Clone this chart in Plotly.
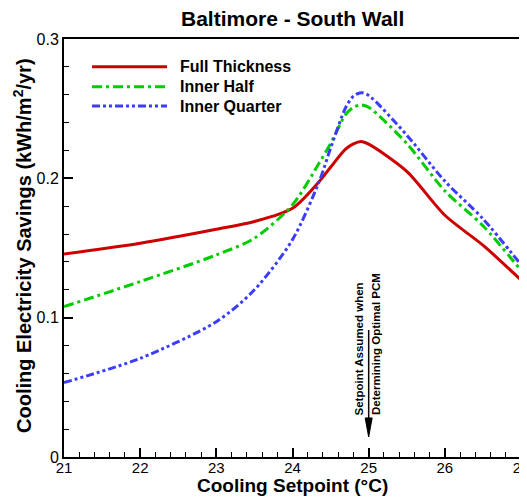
import plotly.graph_objects as go

# ---- data ----
setpoint = [21, 22, 23, 23.5, 24, 24.35, 24.5, 24.7, 24.8, 24.9, 25, 25.5, 26, 26.5, 27]
full_thickness = [0.1457, 0.1534, 0.1634, 0.169, 0.1785, 0.1977, 0.208, 0.2211, 0.2247, 0.2264, 0.2245, 0.205, 0.1735, 0.152, 0.127]
inner_half = [0.1079, 0.1259, 0.145, 0.157, 0.181, 0.211, 0.225, 0.246, 0.251, 0.2527, 0.251, 0.225, 0.191, 0.166, 0.134]
inner_quarter = [0.0534, 0.0708, 0.0971, 0.120, 0.156, 0.1977, 0.2216, 0.251, 0.259, 0.2615, 0.2595, 0.231, 0.198, 0.171, 0.138]

series_names = ["Full Thickness", "Inner Half", "Inner Quarter"]
x_ticks = [21, 22, 23, 24, 25, 26, 27]
y_ticks = [0, 0.1, 0.2, 0.3]
y_tick_text = ["0", "0.1", "0.2", "0.3"]

colors = ["#CC0000", "#00CC00", "#3C3CFF"]
dashes = ["solid", "10px,4px,3px,4px", "8px,3px,3px,3px,3px,3px"]
widths = [3, 3, 3]
FONT = "Liberation Sans, Arial, Helvetica, sans-serif"

fig = go.Figure()
for name, ys, c, d, w in zip(series_names, [full_thickness, inner_half, inner_quarter], colors, dashes, widths):
    fig.add_trace(go.Scatter(x=setpoint, y=ys, mode="lines", name=name,
                             line=dict(color=c, dash=d, width=w, shape="spline", smoothing=0.8),
                             showlegend=False))

# manual legend (long line samples)
leg_y = [0.9337, 0.886, 0.8397]
for name, c, d, w, ly in zip(series_names, colors, dashes, widths, leg_y):
    fig.add_shape(type="line", xref="paper", yref="paper", x0=0.0613, x1=0.2254, y0=ly, y1=ly,
                  line=dict(color=c, dash=d, width=w))
    fig.add_annotation(xref="paper", yref="paper", x=0.2495, y=ly, text="<b>%s</b>" % name,
                       showarrow=False, xanchor="left", yanchor="middle",
                       font=dict(family=FONT, size=16, color="black"))

# arrow at setpoint 25
fig.add_shape(type="line", xref="x", yref="y", x0=25, x1=25, y0=0.0912, y1=0.025,
              line=dict(color="black", width=1.5))
fig.add_shape(type="path", xref="x", yref="y", xsizemode="pixel", ysizemode="pixel",
              xanchor=25, yanchor=0.0144, path="M-3.5,19 L3.5,19 L0,0 Z",
              fillcolor="black", line=dict(color="black", width=1))
fig.add_annotation(x=24.873, y=0.0287, text="<b>Setpoint Assumed when</b>", textangle=-90,
                   showarrow=False, xanchor="center", yanchor="bottom",
                   font=dict(family=FONT, size=11.5, color="black"))
fig.add_annotation(x=25.096, y=0.0287, text="<b>Determining Optimal PCM</b>", textangle=-90,
                   showarrow=False, xanchor="center", yanchor="bottom",
                   font=dict(family=FONT, size=11.5, color="black"))

# axis titles and chart title
fig.add_annotation(xref="paper", yref="paper", x=-0.0908, y=0.506,
                   text="<b>Cooling Electricity Savings (kWh/m<sup>2</sup>/yr)</b>", textangle=-90,
                   showarrow=False, xanchor="center", yanchor="middle",
                   font=dict(family=FONT, size=20, color="black"))
fig.add_annotation(xref="paper", yref="paper", x=0.5, y=-0.067,
                   text="<b>Cooling Setpoint (°C)</b>",
                   showarrow=False, xanchor="center", yanchor="middle",
                   font=dict(family=FONT, size=19, color="black"))
fig.add_annotation(xref="paper", yref="paper", x=0.5, y=1.0502,
                   text="<b>Baltimore - South Wall</b>",
                   showarrow=False, xanchor="center", yanchor="middle",
                   font=dict(family=FONT, size=21, color="black"))

axis_common = dict(showline=True, linecolor="black", linewidth=2, mirror=True,
                   ticks="inside", ticklen=9, tickwidth=1.5, tickcolor="black",
                   showgrid=False, zeroline=False, ticklabeloverflow="allow",
                   automargin=False)
fig.update_xaxes(range=[21, 27], tickvals=x_ticks, ticklabelstandoff=-4,
                 tickfont=dict(family=FONT, size=15, color="black"),
                 minor=dict(ticks="inside", dtick=0.2, ticklen=5, tickwidth=1, tickcolor="black"),
                 **axis_common)
fig.update_yaxes(range=[0, 0.3], tickvals=y_ticks, ticktext=y_tick_text,
                 tickfont=dict(family=FONT, size=16, color="black"),
                 minor=dict(ticks="inside", dtick=0.02, ticklen=5, tickwidth=1, tickcolor="black"),
                 **axis_common)

# page body adds an 8px offset, so the figure is 8px smaller and margins shifted
fig.update_layout(width=519, height=489, margin=dict(l=56, r=6, t=31, b=40, autoexpand=False),
                  plot_bgcolor="white", paper_bgcolor="white",
                  font=dict(family=FONT, color="black"), showlegend=False)

fig.write_html("out.html")
